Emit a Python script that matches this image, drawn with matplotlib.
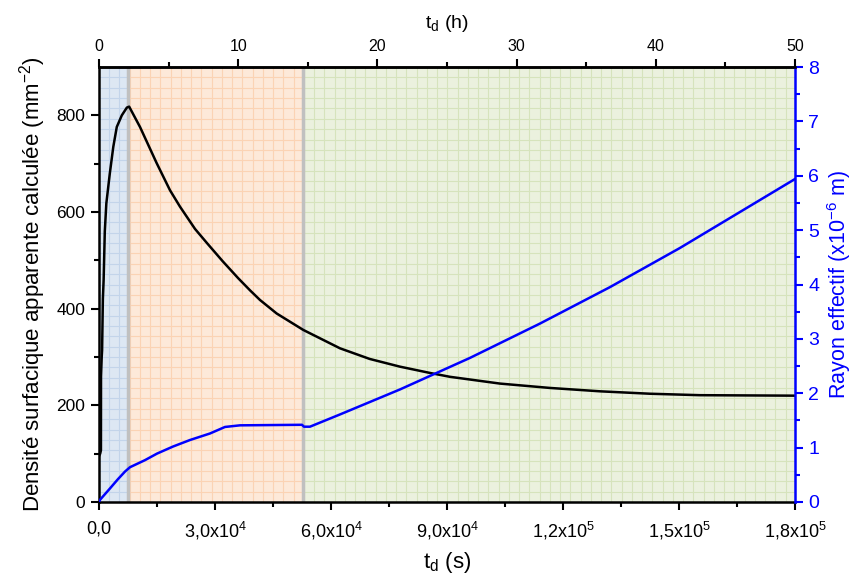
import matplotlib
matplotlib.use("Agg")
import matplotlib.pyplot as plt
import numpy as np

plt.rcParams['font.family'] = ['Liberation Sans', 'DejaVu Sans']
plt.rcParams['mathtext.fontset'] = 'custom'
plt.rcParams['mathtext.rm'] = 'Liberation Sans'
plt.rcParams['mathtext.default'] = 'regular'

# ---- data ----
density_t = [0, 300, 500, 520, 700, 800, 1000, 1200, 1500, 1900, 2800, 3700, 4600, 5900, 7200, 7800,
             10600, 14920, 18360, 20950, 24830, 28000, 32000, 36000, 39050, 41630, 45950, 52830,
             62320, 70000, 77840, 85600, 90770,
             103700, 116600, 129600, 142500, 155400, 180000]
density_v = [95, 100, 107, 260, 300, 314, 420, 460, 560, 618, 680, 735, 776, 800, 816, 818,
             776, 701, 645, 611, 565, 535, 498, 463, 438, 418, 390, 356,
             318, 296, 280, 267, 259,
             245, 236, 229, 224, 221, 220]

radius_t = [0, 259, 2845, 4900, 6724, 8017, 11900, 15000, 19140, 23530, 28700, 32580, 36460,
            52500, 53000, 54560, 62320, 77840, 95940, 114000, 132100, 150200, 180000]
radius_v = [0, 0.04, 0.25, 0.42, 0.56, 0.64, 0.77, 0.89, 1.02, 1.14, 1.26, 1.38, 1.41,
            1.42, 1.385, 1.385, 1.61, 2.07, 2.65, 3.28, 3.95, 4.67, 5.94]

region_edges = [0, 7580, 52840, 180000]
region_colors = ['#dde7f3', '#fde9d9', '#ebf1de']
region_grid = ['#c3d4ea', '#fbd3b4', '#d6e3bc']

x_ticks = [0, 30000, 60000, 90000, 120000, 150000, 180000]
x_tick_labels = ['0,0', '3,0x10$^{4}$', '6,0x10$^{4}$', '9,0x10$^{4}$',
                 '1,2x10$^{5}$', '1,5x10$^{5}$', '1,8x10$^{5}$']
top_ticks = [0, 10, 20, 30, 40, 50]

fig = plt.figure(figsize=(8.59, 5.84), dpi=100)
ax = fig.add_axes([99/859, 82/584, 696/859, 435/584])
ax.set_xlim(0, 180000)
ax.set_ylim(0, 900)

# background regions with grid pattern
gx = 2650.0
gy = 900 / 42.0
for i in range(3):
    x0, x1 = region_edges[i], region_edges[i + 1]
    ax.axvspan(x0, x1, color=region_colors[i], zorder=0, lw=0)
    xs = np.arange(np.ceil(x0 / gx) * gx, x1, gx)
    ax.vlines(xs, 0, 900, colors=region_grid[i], lw=0.8, zorder=0.5)
    ys = np.arange(gy, 900, gy)
    ax.hlines(ys, x0, x1, colors=region_grid[i], lw=0.8, zorder=0.5)
for e in region_edges[1:3]:
    ax.axvline(e, color='#c0c0c0', lw=2.5, zorder=0.8)

ax.plot(density_t, density_v, color='black', lw=1.8, zorder=3)

ax.set_xticks(x_ticks)
ax.set_xticklabels(x_tick_labels)
ax.set_xticks(np.arange(15000, 180000, 30000), minor=True)
ax.set_yticks([0, 200, 400, 600, 800])
ax.set_yticks([100, 300, 500, 700], minor=True)
ax.tick_params(axis='both', which='major', direction='out', length=6, width=1.5)
ax.tick_params(axis='both', which='minor', direction='out', length=3.5, width=1.5)
ax.tick_params(axis='x', labelsize=13, pad=7)
ax.tick_params(axis='y', labelsize=12.5, pad=4)
for s in ['left', 'bottom', 'top']:
    ax.spines[s].set_linewidth(1.8)
ax.spines['right'].set_visible(False)
ax.set_ylabel('Densité surfacique apparente calculée (mm$^{-2}$)', fontsize=16, labelpad=6)
ax.set_xlabel('t$_d$ (s)', fontsize=16, labelpad=6)

ax2 = ax.twinx()
ax2.set_ylim(0, 8)
ax2.plot(radius_t, radius_v, color='#0000ff', lw=1.8, zorder=3)
ax2.set_yticks(range(0, 9))
ax2.set_yticks(np.arange(0.5, 8, 1), minor=True)
ax2.tick_params(axis='y', which='major', direction='out', length=6, width=1.5, colors='#0000ff', labelsize=14)
ax2.tick_params(axis='y', which='minor', direction='out', length=3.5, width=1.5, colors='#0000ff')
ax2.spines['right'].set_color('#0000ff')
ax2.spines['right'].set_linewidth(1.8)
for s in ['left', 'bottom', 'top']:
    ax2.spines[s].set_visible(False)
ax2.set_ylabel('Rayon effectif (x10$^{-6}$ m)', color='#0000ff', fontsize=15.5, labelpad=4)

ax3 = ax.twiny()
ax3.set_xlim(0, 50)
ax3.set_xticks(top_ticks)
ax3.set_xticks(range(5, 50, 10), minor=True)
ax3.tick_params(axis='x', which='major', direction='out', length=6, width=1.5, labelsize=11.5)
ax3.tick_params(axis='x', which='minor', direction='out', length=3.5, width=1.5)
for s in ['left', 'bottom', 'right']:
    ax3.spines[s].set_visible(False)
ax3.spines['top'].set_linewidth(1.8)
ax3.set_xlabel('t$_d$ (h)', fontsize=14, labelpad=8)

fig.savefig('out.png', dpi=100)
